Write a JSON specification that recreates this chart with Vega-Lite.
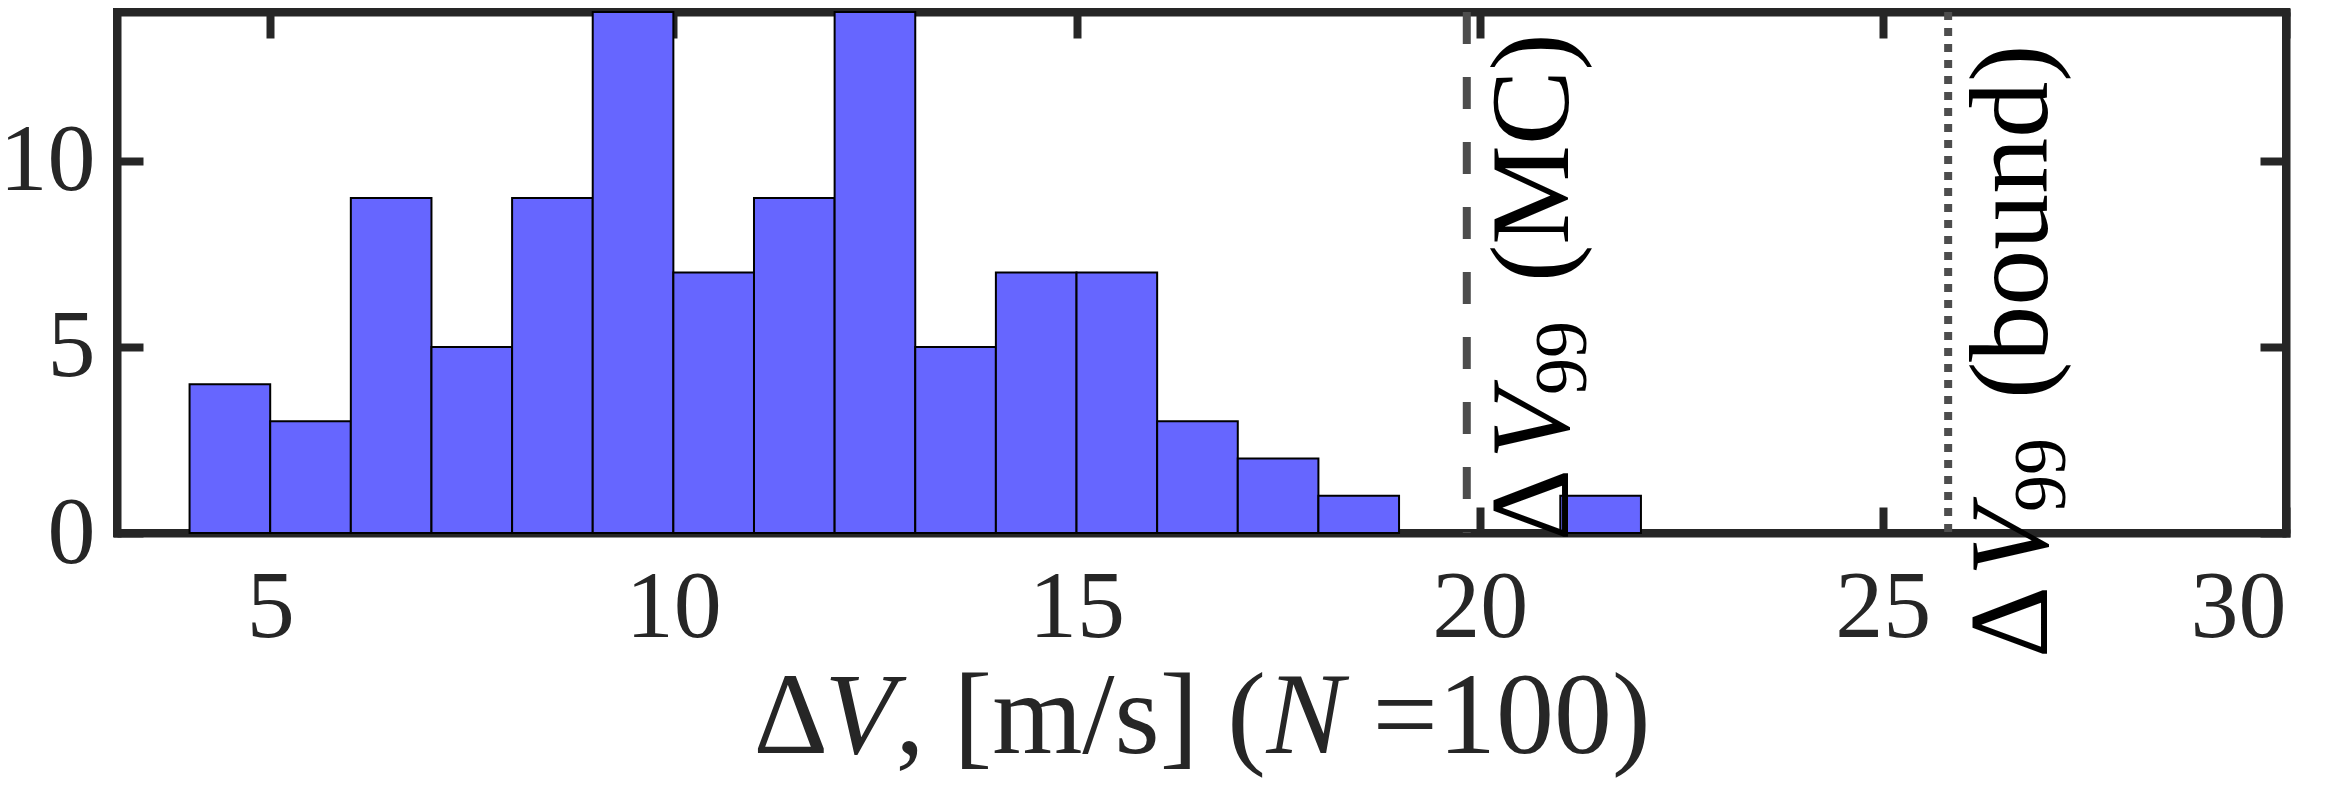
{
  "$schema": "https://vega.github.io/schema/vega-lite/v6.json",
  "width": 2169,
  "height": 521,
  "autosize": {"type": "none"},
  "padding": {"left": 117, "top": 12, "right": 52, "bottom": 259},
  "background": "white",
  "config": {
    "view": {"stroke": "#262626", "strokeWidth": 8},
    "axis": {
      "domainColor": "#262626",
      "domainWidth": 8,
      "domainCap": "square",
      "tickColor": "#262626",
      "tickWidth": 8,
      "tickSize": -26,
      "labelFont": "Liberation Serif",
      "labelFontSize": 96,
      "labelColor": "#262626",
      "grid": false,
      "zindex": 1
    },
    "text": {"font": "Liberation Serif", "color": "black", "align": "left", "baseline": "alphabetic"}
  },
  "datasets": {
    "hist": [
      {"bin_start": 4, "bin_end": 5, "count": 4},
      {"bin_start": 5, "bin_end": 6, "count": 3},
      {"bin_start": 6, "bin_end": 7, "count": 9},
      {"bin_start": 7, "bin_end": 8, "count": 5},
      {"bin_start": 8, "bin_end": 9, "count": 9},
      {"bin_start": 9, "bin_end": 10, "count": 14},
      {"bin_start": 10, "bin_end": 11, "count": 7},
      {"bin_start": 11, "bin_end": 12, "count": 9},
      {"bin_start": 12, "bin_end": 13, "count": 14},
      {"bin_start": 13, "bin_end": 14, "count": 5},
      {"bin_start": 14, "bin_end": 15, "count": 7},
      {"bin_start": 15, "bin_end": 16, "count": 7},
      {"bin_start": 16, "bin_end": 17, "count": 3},
      {"bin_start": 17, "bin_end": 18, "count": 2},
      {"bin_start": 18, "bin_end": 19, "count": 1},
      {"bin_start": 21, "bin_end": 22, "count": 1}
    ],
    "mc": [{"dv": 19.84, "base": 0}],
    "bound": [{"dv": 25.81, "base": 0}],
    "titleanchor": [{"mid": 16.55, "base": 0}]
  },
  "layer": [
    {
      "data": {"name": "hist"},
      "mark": {"type": "rect", "fill": "#6666ff", "stroke": "black", "strokeWidth": 2},
      "encoding": {
        "x": {
          "field": "bin_start",
          "type": "quantitative",
          "scale": {"domain": [3.1, 30], "nice": false, "zero": false},
          "axis": {"orient": "bottom", "values": [5, 10, 15, 20, 25, 30], "labelPadding": 53, "title": null}
        },
        "x2": {"field": "bin_end"},
        "y": {
          "field": "count",
          "type": "quantitative",
          "scale": {"domain": [0, 14], "nice": false},
          "axis": {"orient": "left", "values": [0, 5, 10], "labelPadding": 48, "title": null}
        }
      }
    },
    {
      "data": {"name": "mc"},
      "mark": {"type": "rule", "color": "#4d4d4d", "strokeWidth": 8, "strokeDash": [32, 33]},
      "encoding": {
        "x": {
          "field": "dv",
          "type": "quantitative",
          "axis": {"orient": "top", "values": [5, 10, 15, 20, 25, 30], "labels": false, "title": null}
        }
      }
    },
    {
      "data": {"name": "bound"},
      "mark": {"type": "rule", "color": "#4d4d4d", "strokeWidth": 8, "strokeDash": [8, 8]},
      "encoding": {"x": {"field": "dv", "type": "quantitative", "axis": null}}
    },
    {
      "data": {"name": "mc"},
      "mark": {"type": "text", "text": "Δ", "angle": 270, "fontSize": 112, "dx": -8, "dy": 101},
      "encoding": {
        "x": {"field": "dv", "type": "quantitative", "axis": null},
        "y": {"field": "base", "type": "quantitative", "axis": {"orient": "right", "values": [0, 5, 10], "labels": false, "title": null}}
      }
    },
    {
      "data": {"name": "mc"},
      "mark": {"type": "text", "text": "V", "fontStyle": "italic", "angle": 270, "fontSize": 112, "dx": 74, "dy": 101},
      "encoding": {"x": {"field": "dv", "type": "quantitative", "axis": null}, "y": {"field": "base", "type": "quantitative", "axis": null}}
    },
    {
      "data": {"name": "mc"},
      "mark": {"type": "text", "text": "99", "angle": 270, "fontSize": 74, "dx": 138, "dy": 119},
      "encoding": {"x": {"field": "dv", "type": "quantitative", "axis": null}, "y": {"field": "base", "type": "quantitative", "axis": null}}
    },
    {
      "data": {"name": "mc"},
      "mark": {"type": "text", "text": "(MC)", "angle": 270, "fontSize": 112, "dx": 251, "dy": 101},
      "encoding": {"x": {"field": "dv", "type": "quantitative", "axis": null}, "y": {"field": "base", "type": "quantitative", "axis": null}}
    },
    {
      "data": {"name": "bound"},
      "mark": {"type": "text", "text": "Δ", "angle": 270, "fontSize": 112, "dx": -125, "dy": 99},
      "encoding": {"x": {"field": "dv", "type": "quantitative", "axis": null}, "y": {"field": "base", "type": "quantitative", "axis": null}}
    },
    {
      "data": {"name": "bound"},
      "mark": {"type": "text", "text": "V", "fontStyle": "italic", "angle": 270, "fontSize": 112, "dx": -43, "dy": 99},
      "encoding": {"x": {"field": "dv", "type": "quantitative", "axis": null}, "y": {"field": "base", "type": "quantitative", "axis": null}}
    },
    {
      "data": {"name": "bound"},
      "mark": {"type": "text", "text": "99", "angle": 270, "fontSize": 74, "dx": 21, "dy": 117},
      "encoding": {"x": {"field": "dv", "type": "quantitative", "axis": null}, "y": {"field": "base", "type": "quantitative", "axis": null}}
    },
    {
      "data": {"name": "bound"},
      "mark": {"type": "text", "text": "(bound)", "angle": 270, "fontSize": 112, "dx": 134, "dy": 99},
      "encoding": {"x": {"field": "dv", "type": "quantitative", "axis": null}, "y": {"field": "base", "type": "quantitative", "axis": null}}
    },
    {
      "data": {"name": "titleanchor"},
      "mark": {"type": "text", "text": "Δ", "color": "#262626", "fontSize": 116, "dx": -448, "dy": 220},
      "encoding": {"x": {"field": "mid", "type": "quantitative", "axis": null}, "y": {"field": "base", "type": "quantitative", "axis": null}}
    },
    {
      "data": {"name": "titleanchor"},
      "mark": {"type": "text", "text": "V", "fontStyle": "italic", "color": "#262626", "fontSize": 116, "dx": -377, "dy": 220},
      "encoding": {"x": {"field": "mid", "type": "quantitative", "axis": null}, "y": {"field": "base", "type": "quantitative", "axis": null}}
    },
    {
      "data": {"name": "titleanchor"},
      "mark": {"type": "text", "text": ", [m/s] (", "color": "#262626", "fontSize": 116, "dx": -306, "dy": 220},
      "encoding": {"x": {"field": "mid", "type": "quantitative", "axis": null}, "y": {"field": "base", "type": "quantitative", "axis": null}}
    },
    {
      "data": {"name": "titleanchor"},
      "mark": {"type": "text", "text": "N", "fontStyle": "italic", "color": "#262626", "fontSize": 116, "dx": 65, "dy": 220},
      "encoding": {"x": {"field": "mid", "type": "quantitative", "axis": null}, "y": {"field": "base", "type": "quantitative", "axis": null}}
    },
    {
      "data": {"name": "titleanchor"},
      "mark": {"type": "text", "text": "=100)", "color": "#262626", "fontSize": 116, "dx": 171, "dy": 220},
      "encoding": {"x": {"field": "mid", "type": "quantitative", "axis": null}, "y": {"field": "base", "type": "quantitative", "axis": null}}
    }
  ],
  "resolve": {"axis": {"x": "independent", "y": "independent"}}
}
